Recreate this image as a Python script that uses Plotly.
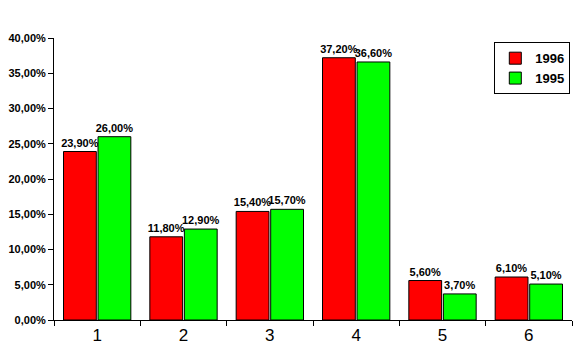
import plotly.graph_objects as go

categories = ["1", "2", "3", "4", "5", "6"]
series_1996 = [0.239, 0.118, 0.154, 0.372, 0.056, 0.061]
series_1995 = [0.260, 0.129, 0.157, 0.366, 0.037, 0.051]
y_ticks = [0, 0.05, 0.10, 0.15, 0.20, 0.25, 0.30, 0.35, 0.40]

font_family = "Liberation Sans, Arial, sans-serif"

fig = go.Figure()
fig.add_trace(go.Bar(
    name="1996", x=categories, y=series_1996,
    marker=dict(color="#ff0000", line=dict(color="black", width=1)),
    texttemplate="%{y:.2%}", textposition="outside", cliponaxis=False,
    textfont=dict(family=font_family, size=11, color="black", weight="bold"),
))
fig.add_trace(go.Bar(
    name="1995", x=categories, y=series_1995,
    marker=dict(color="#00ff00", line=dict(color="black", width=1)),
    texttemplate="%{y:.2%}", textposition="outside", cliponaxis=False,
    textfont=dict(family=font_family, size=11, color="black", weight="bold"),
))

fig.update_layout(
    width=576, height=352,
    margin=dict(l=46, r=12, t=30, b=40, autoexpand=False),
    paper_bgcolor="white", plot_bgcolor="white",
    separators=",.",
    barmode="group", bargap=0.2, bargroupgap=0.05,
    font=dict(family=font_family, color="black"),
    uniformtext=dict(minsize=10, mode="show"),
    legend=dict(
        x=0.85, y=0.985, xanchor="left", yanchor="top",
        bordercolor="black", borderwidth=1, bgcolor="white",
        font=dict(size=13, family=font_family, weight="bold"),
        itemwidth=30, tracegroupgap=0,
    ),
    showlegend=True,
)
fig.update_xaxes(
    type="category", tickson="boundaries", ticks="outside", ticklen=5,
    tickcolor="black", showline=True, linecolor="black", linewidth=1,
    showgrid=False, tickfont=dict(size=17, family=font_family),
)
fig.update_yaxes(
    range=[0, 0.40], tickvals=y_ticks, tickformat=".2%", ticks="outside",
    ticklen=5, tickcolor="black", showline=True, linecolor="black",
    linewidth=1, showgrid=False, zeroline=False,
    tickfont=dict(size=11, family=font_family, weight="bold"),
)

fig.write_html("out.html")
